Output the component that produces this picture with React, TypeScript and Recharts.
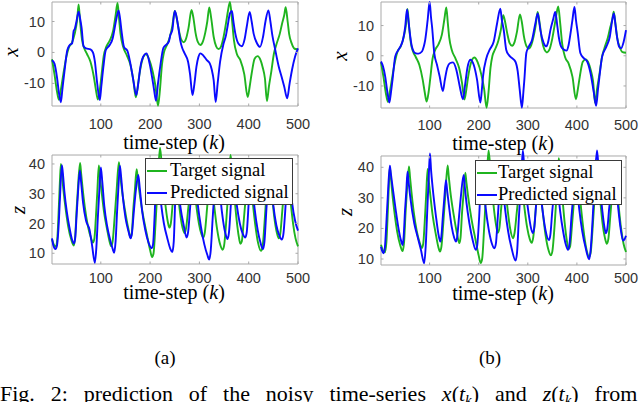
import React from 'react';
import { LineChart, Line, XAxis, YAxis, ReferenceArea, Legend } from 'recharts';

// ---------- data ----------
const K_TICKS = [100, 200, 300, 400, 500];
const X_TICKS = [-10, 0, 10];
const Z_TICKS = [10, 20, 30, 40];
const SERIES_NAMES = ['Target signal', 'Predicted signal'];

// target x(k) (same target in (a) and (b))
const TARGET_X: [number, number][] = [
  [1, -2.2], [6, -7], [11, -12.5], [15, -15.3], [19, -12], [24, -7], [30, -1.5], [35, 1.5], [41, 3], [47, 6],
  [52, 10.5], [55, 15.5], [58, 10], [62, 4], [66, 1.5], [72, -0.5], [79, -3], [86, -8], [90, -12], [94, -15.2],
  [98, -12], [101, -8], [106, -1], [111, 1.8], [118, 3.8], [125, 7], [130, 12], [134, 16], [137, 11], [140, 6],
  [145, 2], [153, -1], [160, -4], [166, -9], [171, -14.5], [175, -11], [178, -7.5], [184, -2.5], [191, -0.6],
  [198, -2.2], [205, -6], [211, -11], [216, -17.2], [220, -12], [224, -4], [228, 0], [233, 2], [240, 5],
  [245, 8.5], [250, 13.4], [254, 11], [258, 7.5], [263, 4.2], [268, 3.3], [273, 4.5], [278, 8], [284, 13.7],
  [288, 11], [292, 6.5], [297, 3.3], [302, 2.4], [307, 3.5], [312, 6.5], [316, 10], [320, 14.5], [324, 11],
  [329, 5], [334, 2], [339, 1.1], [344, 2], [349, 5], [354, 9.5], [358, 13.5], [362, 16.3], [366, 10.7],
  [370, 4], [376, -0.5], [383, -2.5], [391, -7], [398, -14.4], [402, -11], [406, -6.8], [412, -2], [418, -1.2],
  [424, -2.5], [428, -4.6], [433, -8.5], [437, -15.7], [441, -11], [446, -6], [451, -0.5], [456, 2.5], [463, 6],
  [468, 9.5], [472, 12], [475, 14.6], [479, 10], [482, 6], [487, 3], [493, 1.2], [500, 1],
];

// predicted x(k), panel (a)
const PRED_X_A: [number, number][] = [
  [1, -2.5], [6, -3.6], [11, -7.9], [15, -13], [19, -16.1], [22, -12], [26, -6.5], [32, 0.7], [37, 2.4], [42, 3],
  [45, 7], [47, 7.5], [50, 9.5], [55, 13.2], [58, 11], [61, 8], [65, 2], [70, 1.3], [79, 1], [84, 0], [88, -3],
  [92, -9], [98, -15.4], [101, -11], [105, -5], [110, 0.7], [118, 2.4], [124, 4.5], [126, 6], [131, 10.4],
  [136, 13.6], [139, 11], [142, 7], [147, 1.8], [154, 0.5], [160, -3.6], [166, -9], [172, -13.8], [176, -10],
  [180, -5], [186, -1.4], [193, -0.3], [199, -3.6], [204, -8], [208, -12], [212, -15.6], [216, -10], [221, -4],
  [227, 1.5], [233, 2.5], [238, 3.5], [241, 5.6], [245, 7.2], [250, 13.4], [253, 12], [257, 8.3], [261, 4],
  [265, 1.5], [270, -0.3], [277, -3], [281, -7], [286, -13.8], [290, -10], [294, -4.6], [298, -1.5], [302, -0.3],
  [308, -1], [315, -2.5], [321, -3.5], [325, -5.5], [329, -9], [333, -16], [337, -10], [342, -3], [349, 2.9],
  [354, 5.6], [357, 8.3], [362, 12.6], [366, 13.4], [369, 10], [373, 6], [379, 2.9], [386, 2], [392, 4.5],
  [396, 8.3], [402, 13.1], [406, 10], [410, 6.1], [417, 2.9], [423, 1.8], [429, 5], [434, 10], [440, 13.6],
  [444, 10], [448, 5.5], [454, 0.7], [461, -4.6], [467, -8], [472, -11], [478, -14.8], [483, -10], [488, -5.5],
  [494, -1.4], [500, 1.3],
];

// predicted x(k), panel (b)
const PRED_X_B: [number, number][] = [
  [1, -1.9], [5, -3.5], [9.5, -6.8], [14, -12], [18, -15.5], [21, -12.5], [24.5, -7.9], [30, -0.2], [36.7, 2],
  [42, 3.5], [45.6, 5.2], [50.3, 9.6], [54, 15.3], [57, 11.5], [59, 8.5], [64, 3], [70.7, 0.9], [77.6, 0.7],
  [84.4, 1.4], [88, 3], [91, 5.2], [96, 11.8], [100, 17.8], [103, 12.5], [105, 9.6], [109.5, 0.9], [115, -3],
  [120.4, -6.8], [127, -11.7], [131, -8], [136, -4], [142, -2.4], [147.6, -2.2], [154.4, -4.6], [161.2, -10],
  [168, -14.4], [172, -10], [177, -4], [183, -1.3], [189.8, -3], [196.6, -7.9], [203.4, -15.5], [206, -12],
  [208.8, -6.8], [215.6, -0.8], [222.4, 2], [230.6, 4.7], [237.4, 10.7], [244, 15.6], [247, 12], [251, 8.5],
  [256, 2], [261, 0.3], [268, -0.8], [274.6, -1.9], [279.4, -5.1], [283.5, -11.2], [288, -17.2], [291, -12],
  [293, -7.9], [297, 0.9], [302, 3], [308.6, 5.2], [315.4, 10.7], [320.2, 14], [323, 11.5], [325.6, 8.5],
  [332.4, 4.2], [338, 3.1], [342, 5], [346, 8.5], [351.5, 12], [356, 14.5], [360, 10], [363, 6.3], [369.8, 2.5],
  [378.7, 1.7], [383, 3.5], [387, 7.4], [391, 12], [395, 16.2], [398, 12], [401.8, 7.4], [407, 0.9], [414, -0.8],
  [420.9, -1.9], [427.7, -5.7], [434.5, -12.2], [439.2, -16.6], [443, -11], [446, -6.8], [451.5, -0.2], [460, 3],
  [467, 6.3], [472, 11.8], [475.3, 14], [478, 11], [480.7, 7.4], [486, 3], [490, 2.5], [495, 4.5], [500, 8.5],
];

// target z(k) (same target in (a) and (b))
const TARGET_Z: [number, number][] = [
  [1, 14.7], [5, 12.8], [9, 12.2], [12, 15.5], [15, 26], [17, 34], [19, 40], [21, 37], [24, 31.5], [29, 24.5],
  [34, 18.9], [40, 14.6], [45, 12.6], [48, 15.5], [51, 25], [54, 33], [58, 40.3], [60, 37], [63, 32], [67.5, 25.6],
  [74, 19], [80, 15.2], [84, 13.6], [87, 15], [90, 22], [93, 31], [96, 39.5], [98, 36], [101.4, 31], [106, 24.5],
  [113, 17.8], [118, 13.8], [121, 12.4], [124, 14], [128, 22], [132, 31], [136.7, 40.6], [139, 37], [142, 32.4],
  [149, 24.5], [155.7, 18.4], [160.5, 15.2], [163, 17], [166, 25], [169, 31], [172.7, 38.2], [175, 35], [178, 31],
  [185, 23.4], [193, 16.7], [200, 11.1], [204, 8.7], [207, 10], [211, 20], [215, 32], [220, 45.5], [223, 41],
  [227, 33], [232, 25], [236, 20.5], [239, 18.6], [242, 20], [246, 27], [252, 36], [255, 32], [259, 26], [264, 20],
  [270, 16.8], [273, 18.5], [278, 26], [286, 36.5], [289, 33], [293, 27], [299, 20], [304, 16.5], [308, 15.3],
  [311, 17], [316, 26], [322, 37], [325, 33.5], [330, 26], [336, 18], [342, 13], [347, 11.2], [350, 12.5],
  [355, 22], [359, 32], [363, 43], [366, 39], [370, 31], [375, 22], [380, 15.5], [383, 13.2], [386, 14], [390, 21],
  [395, 31], [400, 40], [403, 36], [407, 29], [413, 20], [419, 13.5], [425, 10.8], [428, 12], [432, 20], [436, 30],
  [440, 41], [443, 37], [447, 30], [452, 22], [457, 17], [461, 15], [464, 16.5], [468, 24], [472, 32], [477, 40],
  [480, 36], [484, 29], [490, 20], [495, 15], [500, 12.3],
];

// predicted z(k), panel (a)
const PRED_Z_A: [number, number][] = [
  [1, 15], [4, 12.5], [8, 11.4], [11, 12.5], [14, 18], [17, 28], [21, 39.6], [23, 37], [26, 31], [31, 24], [36, 19],
  [41, 15], [45.5, 13.3], [48, 15], [51, 23], [54, 31], [57.5, 37.8], [60, 34], [64, 27], [70, 21], [77, 18],
  [82, 13], [88, 6.8], [91, 12], [94, 22], [97, 31], [100, 38.8], [103, 34], [107, 26], [113, 19], [119, 14.5],
  [124, 11.5], [127, 10.2], [130, 14], [133, 24], [136, 33], [138.6, 39.4], [141, 36], [145, 28.5], [150, 22],
  [156, 17.5], [160.5, 15], [163, 16.5], [167, 24], [171, 31], [176, 36.3], [179, 32], [184, 24], [190, 18],
  [197, 13.5], [203, 11.7], [206, 13], [209, 22], [214, 40], [217, 35], [222, 27], [228, 20], [235, 15],
  [241, 11.5], [245, 10.4], [248, 14], [251, 28], [254, 37], [257, 32], [262, 25], [268, 19.5], [274, 15.3],
  [277, 17], [282, 27], [289, 38], [292, 34], [297, 26], [303, 19], [310, 13], [316, 9.5], [320, 7.9], [323, 11],
  [327, 22], [331, 32], [336, 41], [339, 36], [343, 28], [348, 21], [353, 16.5], [357, 14.8], [360, 17], [364, 27],
  [368, 38], [371, 33], [376, 26], [382, 20], [388, 16.5], [393, 15.3], [396, 17], [400, 27], [404, 37], [407, 33],
  [412, 25], [418, 18], [424, 13.5], [429, 11.4], [432, 14], [436, 25], [442, 38], [445, 34], [450, 26],
  [456, 19.5], [462, 16], [467, 14.6], [470, 16], [474, 24], [477, 32], [480, 39], [483, 35], [488, 27],
  [494, 21], [500, 17.6],
];

// predicted z(k), panel (b)
const PRED_Z_B: [number, number][] = [
  [1, 14], [3, 12.8], [6, 11.9], [9, 14], [12, 22], [15, 31], [19, 40.5], [21, 38], [24.5, 33.7], [31, 26],
  [36, 20.6], [41.5, 16.2], [45, 14.6], [47, 17], [50, 26], [52.5, 32], [55, 38.6], [57, 35.5], [60.5, 30.4],
  [68.7, 21.7], [75.5, 17.3], [82.3, 13], [89, 8.6], [92, 14], [95, 25], [98, 36], [100.7, 44.5], [103, 39],
  [106, 33.7], [113, 23.9], [117.7, 18.4], [121.8, 15.7], [124, 17.5], [127, 24], [130, 30], [133.3, 35.8],
  [136, 32], [138.8, 28.2], [145, 20.6], [150, 17], [153.7, 15.7], [156, 17], [160, 24], [164, 31], [169.4, 37.5],
  [172, 33], [175, 28.5], [181, 21.7], [188, 16], [194, 13], [197, 14.5], [201, 24], [206, 40], [209, 35],
  [214, 27], [220, 20], [226, 15.5], [232, 13.5], [235, 15], [239, 24], [246, 39], [249, 34], [254, 26],
  [260, 19], [267, 13.5], [275, 9.5], [278, 12], [282, 24], [286, 35], [290, 45.5], [293, 39], [297, 31],
  [302, 24.5], [306, 20.5], [310, 18.5], [313, 20], [317, 28], [322, 37], [325, 33], [330, 26], [336, 19.5],
  [343, 16.2], [346, 18], [350, 26], [354, 32], [358, 37], [361, 33], [366, 25.5], [372, 19], [377, 15], [382, 13],
  [385, 15], [389, 24], [393, 31.5], [397, 38], [400, 34], [405, 26], [411, 19], [418, 13.5], [425, 9.9],
  [428, 13], [432, 23], [436, 35], [441, 45.5], [444, 40], [448, 32], [452, 25.5], [456, 20.5], [459, 18.4],
  [462, 20], [466, 27], [471, 33], [477, 38], [480, 34], [484, 27], [489, 20], [494, 16], [497, 16.5], [500, 17.6],
];

// ---------- styling ----------
const GREEN = '#1fb41f';
const BLUE = '#0a0aff';
const FRAME = '#a9a9a9';
const TICK_TEXT = '#333333';
const SANS = '"Liberation Sans", Arial, Helvetica, sans-serif';
const SERIF = '"Liberation Serif", "Times New Roman", Times, serif';

const toPts = (a: [number, number][]) => a.map(([k, v]) => ({ k, v }));

const makeXTick = (m: number, frameH: number) => (props: any) => {
  const { x, y, payload } = props;
  const base = y - m;
  return (
    <g>
      <line x1={x} x2={x} y1={base} y2={base - 2.5} stroke={FRAME} strokeWidth={1} />
      <line x1={x} x2={x} y1={base - frameH} y2={base - frameH + 2.5} stroke={FRAME} strokeWidth={1} />
      <text x={x} y={y} textAnchor="middle" dominantBaseline="central" fontFamily={SANS} fontSize={14.5} fill={TICK_TEXT}>
        {payload.value}
      </text>
    </g>
  );
};

const makeYTick = (m: number, frameW: number) => (props: any) => {
  const { x, y, payload } = props;
  const base = x + m;
  return (
    <g>
      <line x1={base} x2={base + 2.5} y1={y} y2={y} stroke={FRAME} strokeWidth={1} />
      <line x1={base + frameW} x2={base + frameW - 2.5} y1={y} y2={y} stroke={FRAME} strokeWidth={1} />
      <text x={x} y={y} textAnchor="end" dominantBaseline="central" fontFamily={SANS} fontSize={14.5} fill={TICK_TEXT}>
        {payload.value}
      </text>
    </g>
  );
};

type Box = { left: number; top: number; w: number; h: number; textLeft: number };

const makeLegend = (box: Box) => (props: any) => {
  const payload = [...(props.payload || [])].sort(
    (a: any, b: any) => SERIES_NAMES.indexOf(a.value) - SERIES_NAMES.indexOf(b.value)
  );
  return (
    <div
      style={{
        width: box.w,
        height: box.h,
        boxSizing: 'border-box',
        background: '#ffffff',
        border: '1px solid #3a3a3a',
        paddingTop: 1,
      }}
    >
      {payload.map((p: any, i: number) => (
        <div key={i} style={{ position: 'relative', height: 21.5, lineHeight: '21.5px' }}>
          <span
            style={{
              position: 'absolute',
              left: 1,
              top: 10,
              width: 20,
              height: 2,
              background: p.color,
            }}
          />
          <span
            style={{
              position: 'absolute',
              left: box.textLeft,
              top: 0,
              fontFamily: SERIF,
              fontSize: 18.5,
              color: '#000',
              whiteSpace: 'nowrap',
            }}
          >
            {p.value}
          </span>
        </div>
      ))}
    </div>
  );
};

type PanelProps = {
  left: number;
  top: number;
  width: number;
  height: number;
  marginTop: number;
  xAxisH: number;
  yDomain: [number, number];
  frameY: [number, number];
  frameH: number;
  frameW: number;
  yTicks: number[];
  xTickMargin: number;
  target: [number, number][];
  pred: [number, number][];
  yLabel: string;
  yLabelPos: [number, number];
  xLabelPos: [number, number];
  legend?: Box;
};

const Panel = (p: PanelProps) => {
  const XTick = makeXTick(p.xTickMargin, p.frameH);
  const YTick = makeYTick(7, p.frameW);
  return (
    <div style={{ position: 'absolute', left: p.left, top: p.top }}>
      <LineChart width={p.width} height={p.height} margin={{ top: p.marginTop, right: p.width - 52 - p.frameW, left: 0, bottom: 0 }}>
        <XAxis
          dataKey="k"
          type="number"
          domain={[1, 500]}
          ticks={K_TICKS}
          interval={0}
          tickSize={0}
          tickMargin={p.xTickMargin}
          axisLine={false}
          tickLine={false}
          tick={XTick}
          height={p.xAxisH}
          label={() => (
            <text
              x={p.xLabelPos[0]}
              y={p.xLabelPos[1]}
              textAnchor="middle"
              dominantBaseline="central"
              fontFamily={SERIF}
              fontSize={20}
              fill="#000"
            >
              time-step (<tspan fontStyle="italic">k</tspan>)
            </text>
          )}
        />
        <YAxis
          type="number"
          domain={p.yDomain}
          ticks={p.yTicks}
          interval={0}
          width={52}
          tickSize={0}
          tickMargin={7}
          axisLine={false}
          tickLine={false}
          tick={YTick}
          label={() => (
            <text
              x={p.yLabelPos[0]}
              y={p.yLabelPos[1]}
              transform={`rotate(-90 ${p.yLabelPos[0]} ${p.yLabelPos[1]})`}
              textAnchor="middle"
              dominantBaseline="central"
              fontFamily={SERIF}
              fontStyle="italic"
              fontSize={21}
              fill="#000"
            >
              {p.yLabel}
            </text>
          )}
        />
        <ReferenceArea
          x1={1}
          x2={500}
          y1={p.frameY[0]}
          y2={p.frameY[1]}
          fill="none"
          fillOpacity={0}
          stroke={FRAME}
          strokeWidth={1}
          ifOverflow="visible"
        />
        <Line
          data={toPts(p.target)}
          dataKey="v"
          name={SERIES_NAMES[0]}
          type="monotone"
          stroke={GREEN}
          strokeWidth={1.9}
          dot={false}
          activeDot={false}
          isAnimationActive={false}
        />
        <Line
          data={toPts(p.pred)}
          dataKey="v"
          name={SERIES_NAMES[1]}
          type="monotone"
          stroke={BLUE}
          strokeWidth={1.9}
          dot={false}
          activeDot={false}
          isAnimationActive={false}
        />
        {p.legend && (
          <Legend
            layout="horizontal"
            verticalAlign="middle"
            align="center"
            content={makeLegend(p.legend)}
            wrapperStyle={{
              left: p.legend.left,
              top: p.legend.top,
              width: p.legend.w,
              height: p.legend.h,
              right: 'auto',
              bottom: 'auto',
              margin: 0,
            }}
          />
        )}
      </LineChart>
    </div>
  );
};

export default function App() {
  return (
    <div
      style={{
        position: 'absolute',
        left: 0,
        top: 0,
        width: 640,
        height: 402,
        background: '#ffffff',
        overflow: 'hidden',
      }}
    >
      <svg width={640} height={402} style={{ position: 'absolute', left: 0, top: 0 }}>
        <text x={165} y={357} textAnchor="middle" dominantBaseline="central" fontFamily={SERIF} fontSize={19} fill="#000">
          (a)
        </text>
        <text x={490} y={357} textAnchor="middle" dominantBaseline="central" fontFamily={SERIF} fontSize={19} fill="#000">
          (b)
        </text>
        <text x={0} y={401} fontFamily={SERIF} fontSize={22} fill="#000" wordSpacing={10.4}>
          Fig. 2: prediction of the noisy time-series <tspan fontStyle="italic">x</tspan>(<tspan fontStyle="italic">t</tspan>
          <tspan fontStyle="italic" fontSize={15} dy={4}>k</tspan>
          <tspan dy={-4}>) and </tspan>
          <tspan fontStyle="italic">z</tspan>(<tspan fontStyle="italic">t</tspan>
          <tspan fontStyle="italic" fontSize={15} dy={4}>k</tspan>
          <tspan dy={-4}>) from</tspan>
        </text>
      </svg>

      <Panel
        left={0}
        top={0}
        width={312}
        height={156}
        marginTop={2}
        xAxisH={50}
        yDomain={[-17.3, 16.3]}
        frameY={[-17.3, 16.3]}
        frameH={104}
        frameW={246}
        yTicks={X_TICKS}
        xTickMargin={18}
        target={TARGET_X}
        pred={PRED_X_A}
        yLabel="x"
        yLabelPos={[11, 52]}
        xLabelPos={[174, 141.5]}
      />
      <Panel
        left={329}
        top={0}
        width={311}
        height={158}
        marginTop={2}
        xAxisH={50}
        yDomain={[-17.3, 17.8]}
        frameY={[-17.3, 17.8]}
        frameH={106}
        frameW={245}
        yTicks={X_TICKS}
        xTickMargin={17}
        target={TARGET_X}
        pred={PRED_X_B}
        yLabel="x"
        yLabelPos={[10.5, 56]}
        xLabelPos={[174, 143]}
      />
      <Panel
        left={0}
        top={140}
        width={312}
        height={164}
        marginTop={4.6}
        xAxisH={40}
        yDomain={[6.4, 46.5]}
        frameY={[6.4, 43]}
        frameH={109}
        frameW={246}
        yTicks={Z_TICKS}
        xTickMargin={13.5}
        target={TARGET_Z}
        pred={PRED_Z_A}
        yLabel="z"
        yLabelPos={[18, 70]}
        xLabelPos={[174, 151.5]}
        legend={{ left: 145, top: 18, w: 148, h: 47, textLeft: 24 }}
      />
      <Panel
        left={329}
        top={140}
        width={311}
        height={165}
        marginTop={5.9}
        xAxisH={40}
        yDomain={[8.04, 47]}
        frameY={[8.04, 43.7]}
        frameH={109}
        frameW={245}
        yTicks={Z_TICKS}
        xTickMargin={13.3}
        target={TARGET_Z}
        pred={PRED_Z_B}
        yLabel="z"
        yLabelPos={[16, 72]}
        xLabelPos={[174, 153]}
        legend={{ left: 146, top: 20, w: 147, h: 45, textLeft: 22 }}
      />
    </div>
  );
}
